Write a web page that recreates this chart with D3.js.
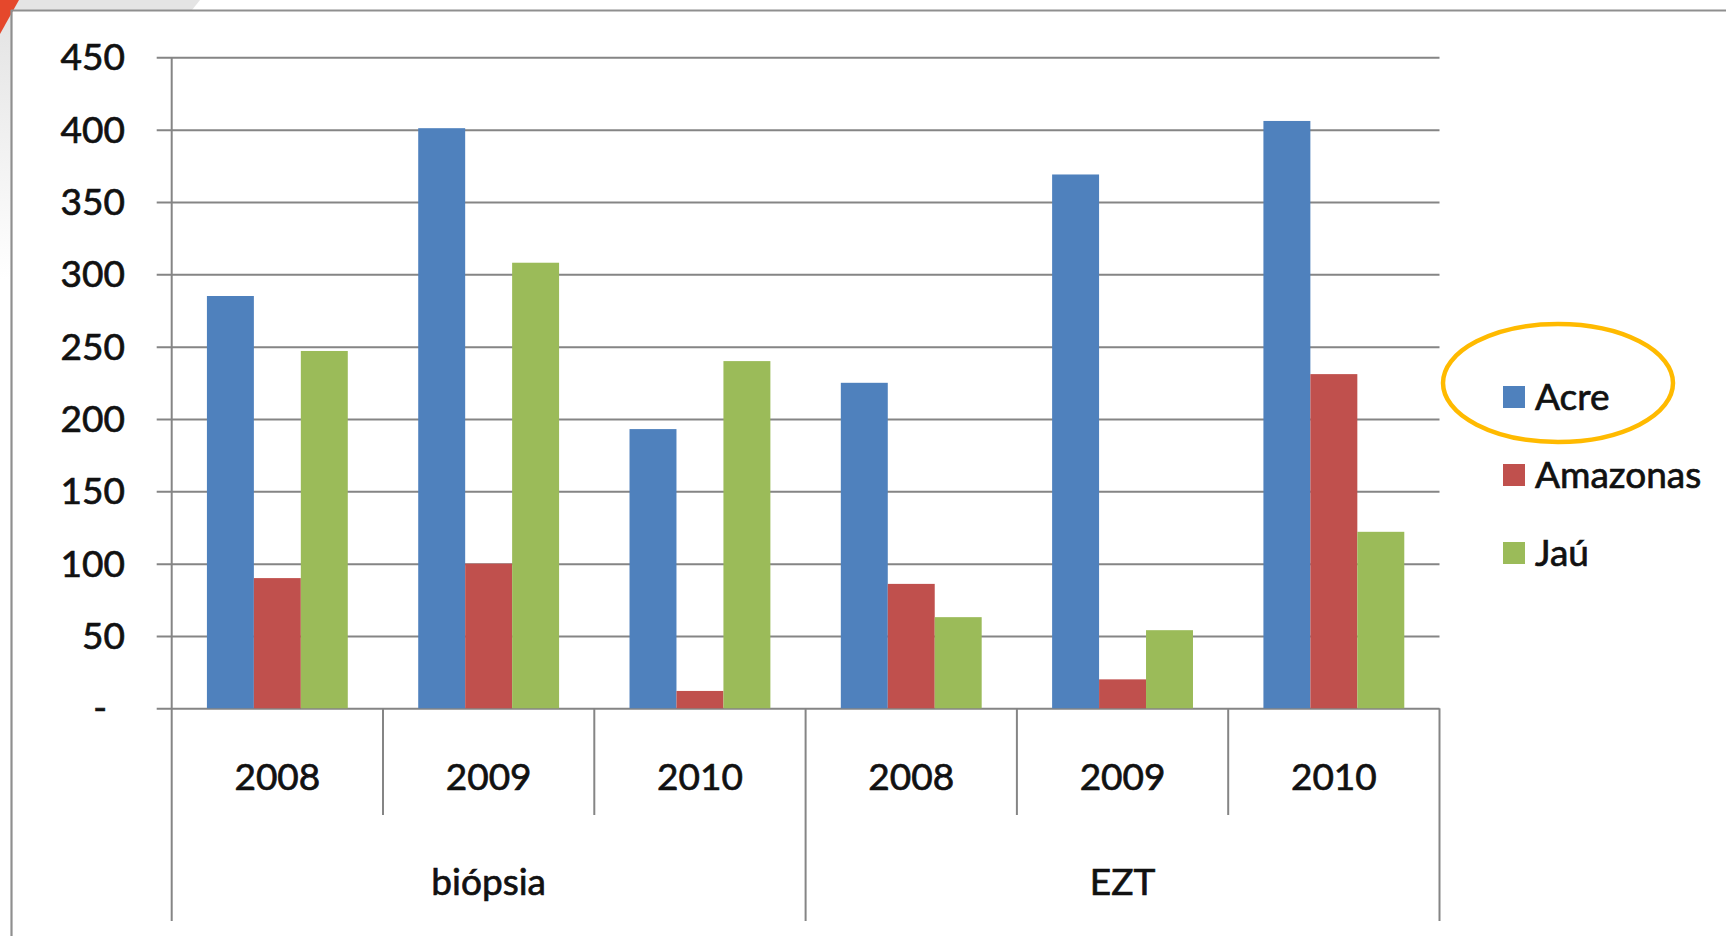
<!DOCTYPE html>
<html>
<head>
<meta charset="utf-8">
<script src="https://cdn.jsdelivr.net/npm/d3@7"></script>
<style>
  html, body { margin: 0; padding: 0; background: #ffffff; }
  svg { display: block; }
  text { font-family: Lato, "Open Sans", sans-serif; fill: #111; stroke: #111; stroke-width: 0.7px; }
</style>
</head>
<body>
<svg id="chart" width="1726" height="936"></svg>
<script>
// Data
const groups = ["biópsia", "EZT"];
const years = ["2008", "2009", "2010"];
const seriesNames = ["Acre", "Amazonas", "Jaú"];
const seriesColors = ["#4F81BD", "#C0504D", "#9BBB59"];
const acre = [285, 401, 193, 225, 369, 406];
const amazonas = [90, 100, 12, 86, 20, 231];
const jau = [247, 308, 240, 63, 54, 122];
const yTicks = [0, 50, 100, 150, 200, 250, 300, 350, 400, 450];

const seriesValues = [acre, amazonas, jau];
const categories = [];
groups.forEach(g => years.forEach(y => categories.push({ group: g, year: y, key: g + "|" + y })));

const svg = d3.select("#chart");

// Slide background bits around the chart frame
const defs = svg.append("defs");
const lg = defs.append("linearGradient").attr("id", "leftFade").attr("x1", 0).attr("y1", 0).attr("x2", 0).attr("y2", 1);
lg.append("stop").attr("offset", 0).attr("stop-color", "#e2e2e2");
lg.append("stop").attr("offset", 1).attr("stop-color", "#ffffff");
svg.append("rect").attr("x", 0).attr("y", 0).attr("width", 11).attr("height", 280).attr("fill", "url(#leftFade)");
svg.append("path").attr("d", "M0,0 L200,0 L192,10 L0,10 Z").attr("fill", "#e4e4e4");
svg.append("path").attr("d", "M0,0 L19,0 L0,34 Z").attr("fill", "#e5482c");

// Chart frame
svg.append("line").attr("x1", 11).attr("x2", 1726).attr("y1", 10.5).attr("y2", 10.5)
  .attr("stroke", "#8f8f8f").attr("stroke-width", 2.2);
svg.append("line").attr("x1", 11.5).attr("x2", 11.5).attr("y1", 10).attr("y2", 936)
  .attr("stroke", "#8f8f8f").attr("stroke-width", 2.2);

// Scales
const plotLeft = 171.7, plotRight = 1439.5, plotTop = 57.3, plotBottom = 708.3;
const x0 = d3.scaleBand().domain(categories.map(d => d.key)).range([plotLeft, plotRight]).paddingInner(0).paddingOuter(0);
const x1 = d3.scaleBand().domain(seriesNames).range([0, x0.bandwidth()]).paddingInner(0).paddingOuter(0.75);
const y = d3.scaleLinear().domain([0, 450]).range([plotBottom, plotTop]);

const gridColor = "#858585";

// Horizontal gridlines with their tick marks
const yAxis = d3.axisLeft(y).tickValues(yTicks).tickSize(-(plotRight - plotLeft)).tickFormat("");
const gy = svg.append("g").attr("transform", `translate(${plotLeft},0)`).call(yAxis);
gy.select(".domain").remove();
gy.selectAll(".tick line").attr("stroke", gridColor).attr("stroke-width", 2).attr("x1", -15);

// Y tick labels
svg.append("g").selectAll("text").data(yTicks).join("text")
  .attr("x", d => d === 0 ? 107 : 125)
  .attr("y", d => y(d))
  .attr("dy", "0.35em")
  .attr("text-anchor", "end")
  .attr("font-size", 37)
  .text(d => d === 0 ? "-" : d);

// Bars
const catG = svg.append("g").selectAll("g").data(categories).join("g")
  .attr("transform", d => `translate(${x0(d.key)},0)`);
catG.selectAll("rect").data((d, i) => seriesNames.map((s, j) => ({ s, j, v: seriesValues[j][i] }))).join("rect")
  .attr("x", d => x1(d.s))
  .attr("width", x1.bandwidth())
  .attr("y", d => y(d.v))
  .attr("height", d => y(0) - y(d.v))
  .attr("fill", d => seriesColors[d.j]);

// Vertical axis line and multi-level category separators
const axisG = svg.append("g").attr("stroke", gridColor).attr("stroke-width", 2);
axisG.append("line").attr("x1", plotLeft).attr("x2", plotLeft).attr("y1", plotTop).attr("y2", 921);
categories.forEach((c, i) => {
  if (i === 0) return;
  const xx = x0(c.key);
  const isGroupEdge = years.indexOf(c.year) === 0;
  axisG.append("line").attr("x1", xx).attr("x2", xx).attr("y1", plotBottom).attr("y2", isGroupEdge ? 921 : 815);
});
axisG.append("line").attr("x1", plotRight).attr("x2", plotRight).attr("y1", plotBottom).attr("y2", 921);

// Year labels
svg.append("g").selectAll("text").data(categories).join("text")
  .attr("x", d => x0(d.key) + x0.bandwidth() / 2)
  .attr("y", 777)
  .attr("dy", "0.35em")
  .attr("text-anchor", "middle")
  .attr("font-size", 37)
  .text(d => d.year);

// Group labels
svg.append("g").selectAll("text").data(groups).join("text")
  .attr("x", g => {
    const keys = categories.filter(c => c.group === g).map(c => c.key);
    return (x0(keys[0]) + x0(keys[keys.length - 1]) + x0.bandwidth()) / 2;
  })
  .attr("y", 882)
  .attr("dy", "0.35em")
  .attr("text-anchor", "middle")
  .attr("font-size", 37)
  .text(g => g);

// Legend
const legend = svg.append("g").attr("transform", "translate(1503,0)");
const legendY = d3.scalePoint().domain(seriesNames).range([397, 553]);
const li = legend.selectAll("g").data(seriesNames).join("g")
  .attr("transform", d => `translate(0,${legendY(d)})`);
li.append("rect").attr("x", 0).attr("y", -11).attr("width", 22).attr("height", 22)
  .attr("fill", (d, i) => seriesColors[i]);
li.append("text").attr("x", 32).attr("y", 0).attr("dy", "0.35em")
  .attr("font-size", 37).text(d => d);

// Highlight ring around the first legend entry
svg.append("ellipse").attr("cx", 1558).attr("cy", 383).attr("rx", 115).attr("ry", 59)
  .attr("fill", "none").attr("stroke", "#FFBA00").attr("stroke-width", 4.5);
</script>
</body>
</html>
